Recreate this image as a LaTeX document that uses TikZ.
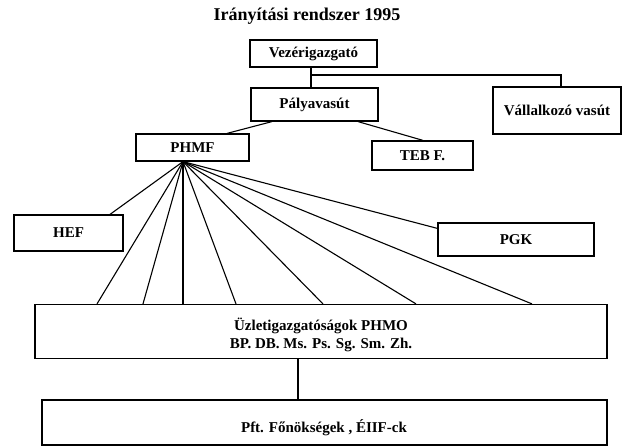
\documentclass[tikz,border=0pt]{standalone}
\usepackage{fontspec}
\setmainfont{Liberation Serif}
\usetikzlibrary{calc}
\tikzset{
  box/.style={draw, line width=1.2pt, inner sep=0pt, font=\bfseries\fontsize{15}{17.5}\selectfont, align=center},
  boxtext/.style={font=\bfseries\fontsize{15}{17.5}\selectfont, align=center},
  conn/.style={line width=1.1pt},
}
\begin{document}
\begin{tikzpicture}[x=1pt,y=-1pt]
\useasboundingbox[fill=white] (0,0) rectangle (630,446);
\node[font=\bfseries\fontsize{18}{21}\selectfont] (title) at (307,16) {Irányítási rendszer 1995};
\node[box, minimum width=127pt, minimum height=27pt] (vez) at (313.5,53.5) {Vezérigazgató};
\node[box, minimum width=127pt, minimum height=33pt] (pal) at (314.5,104.5) {Pályavasút};
\node[box, minimum width=128pt, minimum height=47pt] (val) at (557,110.5) {Vállalkozó vasút};
\node[box, minimum width=113pt, minimum height=27pt] (phmf) at (192.5,147.5) {PHMF};
\node[box, minimum width=101pt, minimum height=29pt] (teb) at (422.5,155.5) {TEB F.};
\node[box, minimum width=109pt, minimum height=36pt] (hef) at (68.5,233) {HEF};
\node[box, minimum width=156pt, minimum height=33pt] (pgk) at (516,239.5) {PGK};
\node[box, minimum width=572pt, minimum height=54pt] (uzl) at (321,331.5) {};
\node[boxtext] (uzltext) at (321,335) {Üzletigazgatóságok PHMO\\BP. DB. Ms. Ps. Sg. Sm. Zh.};
\node[box, minimum width=565pt, minimum height=45pt] (pft) at (324.5,422.5) {};
\node[boxtext] (pfttext) at (324,428) {Pft. Főnökségek , ÉIIF-ck};
% top connectors
\coordinate (vb) at (311,0 |- vez.south);
\draw[conn] (vb) -- (311,0 |- pal.north);
\draw[conn] (311,75) -| (561,0 |- val.north);
\draw[conn] (272,0 |- pal.south) -- (227,0 |- phmf.north);
\draw[conn] (358,0 |- pal.south) -- (423,0 |- teb.north);
% fan from PHMF
\coordinate (apex) at (183,0 |- phmf.south);
\draw[conn] (apex) -- (110,0 |- hef.north);
\draw[conn] (apex) -- ($(pgk.north west)+(0,6)$);
\foreach \xx in {97,143,183,236,323,416,532}{
  \draw[conn] (apex) -- (\xx,0 |- uzl.north);
}
\draw[conn] (298,0 |- uzl.south) -- (298,0 |- pft.north);
\end{tikzpicture}
\end{document}
